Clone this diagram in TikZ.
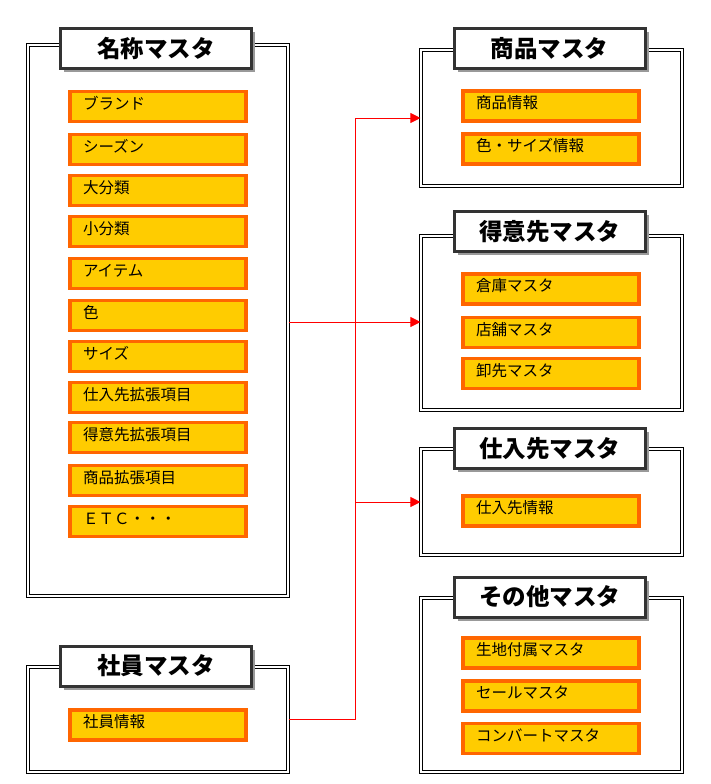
\documentclass[tikz,border=0pt]{standalone}
\usepackage{fontspec}
\newfontfamily\jp{Noto Sans CJK JP}
\usetikzlibrary{arrows.meta,shadows}
\definecolor{itemfill}{HTML}{FFCC00}
\definecolor{itemline}{HTML}{FF6600}
\definecolor{titleline}{HTML}{333333}
\tikzset{
	masterbox/.style={draw, double, double distance=1.4pt, line width=1.1pt, inner sep=0pt},
	mastertitle/.style={draw=titleline, line width=3pt, fill=white, minimum width=191pt, minimum height=40pt, inner sep=0pt,
		font=\jp\bfseries\fontsize{23.5}{26}\selectfont,
		drop shadow={shadow xshift=3.5pt, shadow yshift=-3.5pt, fill=black!40, opacity=1}},
	item/.style={draw=itemline, fill=itemfill, line width=3.5pt, minimum height=30pt, text width=150pt,
		inner xsep=13pt, inner ysep=0pt, align=left, font=\jp\fontsize{15.5}{18}\selectfont,
		text height=0.88em, text depth=0.33em},
	link/.style={red, line width=0.9pt},
	arrow/.style={link, -{Triangle[length=10pt, width=10pt]}}
}

\begin{document}
\begin{tikzpicture}[x=1pt, y=-1pt]
		%%%%% START %%%%%
		\useasboundingbox (0, 0) rectangle (711, 784);
		
		% left side
		\node[masterbox, minimum width=260, minimum height=551] (meisho) at (158, 320.5) {};
		\node[mastertitle] (meishot) at (156, 48.5) {名称マスタ};
		\foreach \y/\t [count=\i] in {106.5/ブランド, 149.5/シーズン, 190.5/大分類, 231.5/小分類, 273.5/アイテム,
			315.5/色, 356.5/サイズ, 397.5/仕入先拡張項目, 437.5/得意先拡張項目, 480.5/商品拡張項目, 521.5/ＥＴＣ・・・}
			\node[item] (meisho\i) at (158, \y) {\t};
		
		\node[masterbox, minimum width=260, minimum height=105] (shain) at (158, 719.5) {};
		\node[mastertitle] (shaint) at (156, 666) {社員マスタ};
		\node[item] (shain1) at (158, 725) {社員情報};
		
		% right side
		\node[masterbox, minimum width=261, minimum height=136] (shohin) at (551.5, 118) {};
		\node[mastertitle] (shohint) at (549.5, 48.5) {商品マスタ};
		\node[item] (shohin1) at (551, 106) {商品情報};
		\node[item] (shohin2) at (551, 149) {色・サイズ情報};
		
		\node[masterbox, minimum width=261, minimum height=174] (tokui) at (551.5, 323) {};
		\node[mastertitle] (tokuit) at (549.5, 231.5) {得意先マスタ};
		\foreach \y/\t [count=\i] in {289/倉庫マスタ, 332.5/店舗マスタ, 373.5/卸先マスタ}
			\node[item] (tokui\i) at (551, \y) {\t};
		
		\node[masterbox, minimum width=261, minimum height=106] (shiire) at (551.5, 502) {};
		\node[mastertitle] (shiiret) at (549.5, 448.5) {仕入先マスタ};
		\node[item] (shiire1) at (551, 511) {仕入先情報};
		
		\node[masterbox, minimum width=261, minimum height=174] (sonota) at (551.5, 685) {};
		\node[mastertitle] (sonotat) at (549.5, 597) {その他マスタ};
		\foreach \y/\t [count=\i] in {653/生地付属マスタ, 696/セールマスタ, 738.5/コンバートマスタ}
			\node[item] (sonota\i) at (551, \y) {\t};
		
		% connectors
		\coordinate (jct) at (355, 322);
		\draw[link] (meisho.east |- jct) -- (jct);
		\draw[link] (shain.east) -| (jct);
		\draw[arrow] (jct) |- (shohin.west);
		\draw[arrow] (jct) -- (tokui.west |- jct);
		\draw[arrow] (jct) |- (shiire.west);
		
		%%%%% END %%%%%
	\end{tikzpicture}
\end{document}
